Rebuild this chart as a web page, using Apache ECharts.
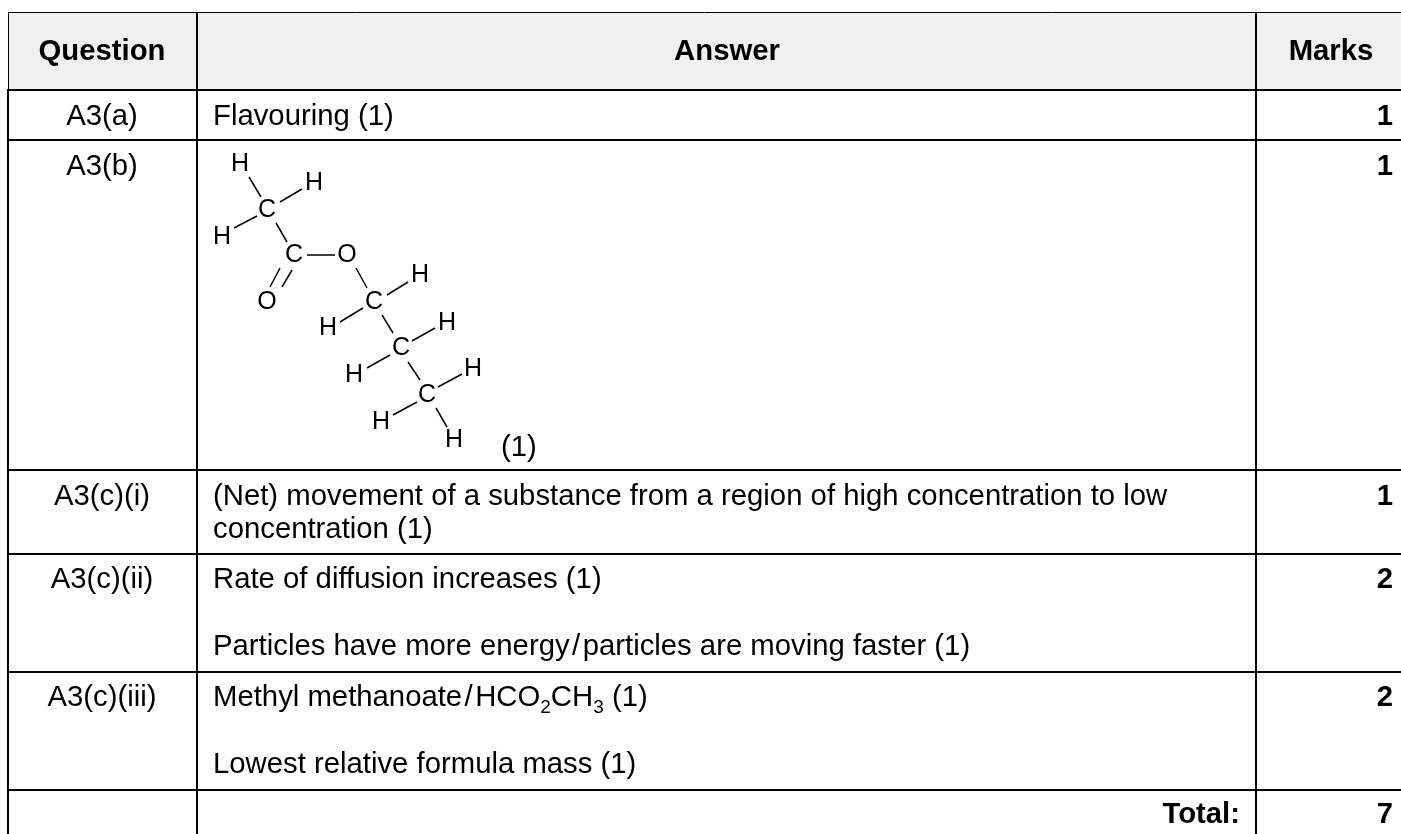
<!DOCTYPE html>
<html>
<head>
<meta charset="utf-8">
<style>
html, body { margin: 0; padding: 0; background: #fff; }
#main { width: 1401px; height: 834px; }
</style>
<script src="https://cdn.jsdelivr.net/npm/echarts@6/dist/echarts.min.js"></script>
</head>
<body>
<div id="main"></div>
<script>
// table rules, in page units
const headerBand = [8, 13, 1401, 89];
const horizontalRules = [[89.5, 8, 1401], [140, 8, 1401], [470, 8, 1401], [554, 8, 1401], [672, 8, 1401], [790, 8, 1401]];
const verticalRules = [[8, 89, 834], [197, 13, 834], [1256, 13, 834]];
const thinRules = [[[8, 12.5], [1401, 12.5]], [[8.5, 12], [8.5, 89]]];

// table text: label, x, y
const headerCentered = [['Question', 102, 52], ['Answer', 727, 52], ['Marks', 1331, 52]];
const questionLabels = [['A3(a)', 102, 117], ['A3(b)', 102, 167], ['A3(c)(i)', 102, 497], ['A3(c)(ii)', 102, 580], ['A3(c)(iii)', 102, 698]];
const answerLines = [
    ['Flavouring (1)', 213, 117],
    ['(Net) movement of a substance from a region of high concentration to low', 213, 497],
    ['concentration (1)', 213, 530],
    ['Rate of diffusion increases (1)', 213, 580],
    ['Particles have more energy\u200a/\u200aparticles are moving faster (1)', 213, 647],
    ['Methyl methanoate\u200a/\u200aHCO{sub|2}CH{sub|3} (1)', 213, 698],
    ['Lowest relative formula mass (1)', 213, 765],
    ['(1)', 501, 448]
];
const marksLabels = [['1', 1393, 117], ['1', 1393, 167], ['1', 1393, 497], ['2', 1393, 580], ['2', 1393, 698], ['7', 1393, 815]];
const totalLabel = [['Total:', 1240, 815]];

// structural formula
const atoms = [
    ['H', 240, 164], ['H', 314, 183], ['C', 267, 210], ['H', 222, 237], ['C', 294, 255], ['O', 347, 255], ['O', 267, 302],
    ['H', 420, 275], ['C', 374, 302], ['H', 328, 328], ['H', 447, 323], ['C', 401, 348], ['H', 354, 375],
    ['H', 473, 369], ['C', 427, 395], ['H', 381, 422], ['H', 454, 440]
];
const bonds = [
    [[249, 177], [261, 197]], [[280, 202], [302, 189]], [[234, 228], [257, 216]], [[276, 223], [287, 242]],
    [[307, 255], [335, 255]], [[280, 268], [270, 287]], [[292, 270], [282, 287]], [[356, 268], [367, 288]],
    [[387, 295], [408, 282]], [[340, 322], [363, 308]], [[382, 315], [393, 333]], [[412, 341], [435, 328]],
    [[367, 368], [390, 355]], [[408, 362], [420, 380]], [[438, 387], [462, 374]], [[393, 415], [417, 402]],
    [[436, 408], [447, 427]]
];

const FONT = '"Liberation Sans", Arial, sans-serif';
const TEXT_SIZE = 29.3;
const ATOM_SIZE = 25;

function textSeries(rows, align, bold, size) {
    return {
        type: 'scatter',
        symbolSize: 0,
        silent: true,
        z: 5,
        itemStyle: { opacity: 1 },
        data: rows.map(r => ({ value: [r[1], r[2]], name: r[0] })),
        label: {
            show: true,
            position: 'inside',
            align: align,
            verticalAlign: 'middle',
            formatter: p => p.name,
            color: '#000',
            opacity: 1,
            fontFamily: FONT,
            fontSize: size || TEXT_SIZE,
            fontWeight: bold ? 'bold' : 'normal',
            rich: {
                sub: { fontFamily: FONT, fontSize: 19, color: '#000', verticalAlign: 'bottom', lineHeight: 38 }
            }
        }
    };
}

const chart = echarts.init(document.getElementById('main'));
chart.setOption({
    animation: false,
    grid: { left: 0, right: 0, top: 0, bottom: 0 },
    xAxis: { type: 'value', min: 0, max: 1401, show: false },
    yAxis: { type: 'value', min: 0, max: 834, inverse: true, show: false },
    series: [
        {
            type: 'custom',
            silent: true,
            z: 1,
            data: [headerBand],
            renderItem: (params, api) => {
                const a = api.coord([api.value(0), api.value(1)]);
                const b = api.coord([api.value(2), api.value(3)]);
                return { type: 'rect', shape: { x: a[0], y: a[1], width: b[0] - a[0], height: b[1] - a[1] }, style: { fill: '#f0f0f0' } };
            }
        },
        {
            type: 'lines',
            coordinateSystem: 'cartesian2d',
            silent: true,
            z: 3,
            lineStyle: { color: '#000', width: 2, opacity: 1 },
            data: horizontalRules.map(r => ({ coords: [[r[1], r[0]], [r[2], r[0]]] }))
                .concat(verticalRules.map(r => ({ coords: [[r[0], r[1]], [r[0], r[2]]] })))
        },
        {
            type: 'lines',
            coordinateSystem: 'cartesian2d',
            silent: true,
            z: 3,
            lineStyle: { color: '#000', width: 1, opacity: 1 },
            data: thinRules.map(c => ({ coords: c }))
        },
        {
            type: 'lines',
            coordinateSystem: 'cartesian2d',
            silent: true,
            z: 4,
            lineStyle: { color: '#000', width: 1.5, opacity: 1 },
            data: bonds.map(c => ({ coords: c }))
        },
        textSeries(headerCentered, 'center', true),
        textSeries(questionLabels, 'center', false),
        textSeries(answerLines, 'left', false),
        textSeries(atoms, 'center', false, ATOM_SIZE),
        textSeries(marksLabels, 'right', true),
        textSeries(totalLabel, 'right', true)
    ]
});

window.addEventListener('resize', () => chart.resize());
</script>
</body>
</html>
